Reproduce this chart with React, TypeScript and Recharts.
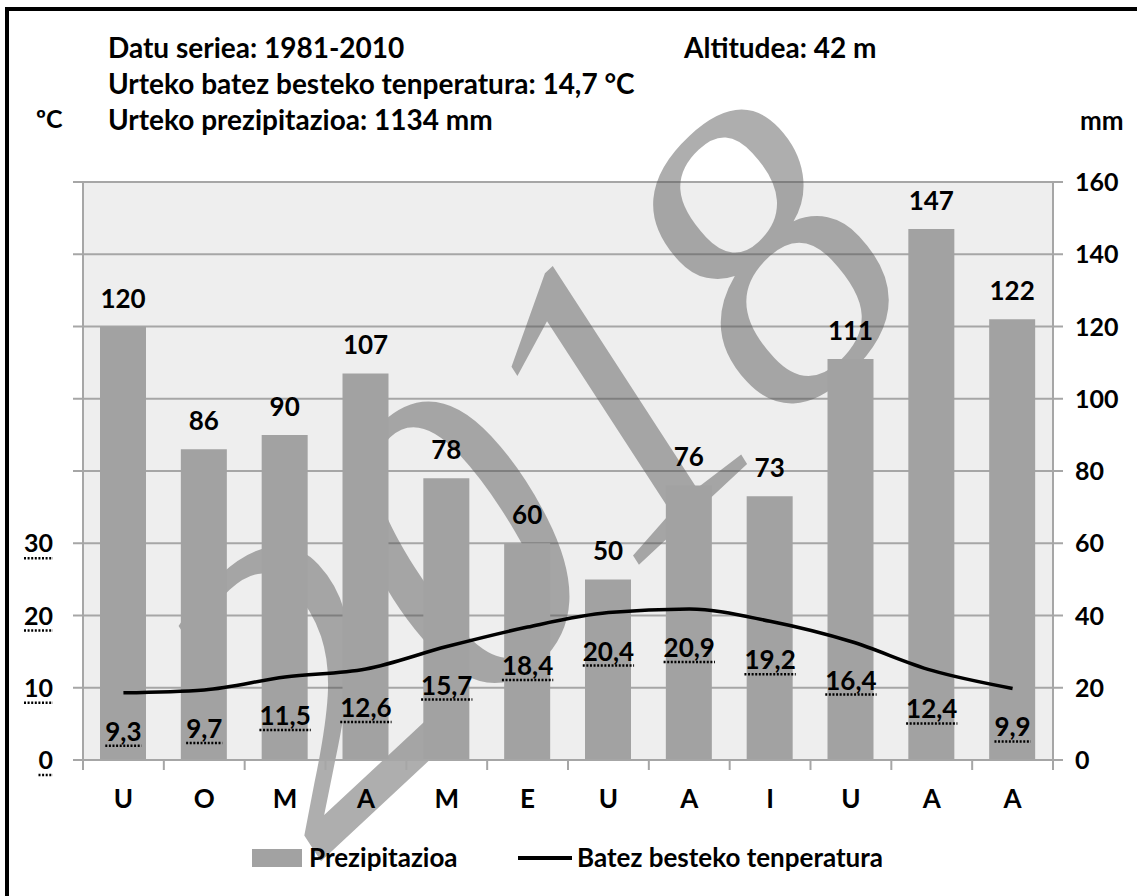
import React from 'react';
import { ComposedChart, Bar, Line, XAxis, YAxis, CartesianGrid, LabelList, Customized } from 'recharts';

const months = ['U', 'O', 'M', 'A', 'M', 'E', 'U', 'A', 'I', 'U', 'A', 'A'];
const precipitation = [120, 86, 90, 107, 78, 60, 50, 76, 73, 111, 147, 122];
const temperature = [9.3, 9.7, 11.5, 12.6, 15.7, 18.4, 20.4, 20.9, 19.2, 16.4, 12.4, 9.9];
const mmTicks = [0, 20, 40, 60, 80, 100, 120, 140, 160];
const tempTicks = [0, 10, 20, 30, 40, 50, 60, 70, 80];
const tempLabeledTicks = [0, 10, 20, 30];
const headerLeft = ['Datu seriea: 1981-2010', 'Urteko batez besteko tenperatura: 14,7 °C', 'Urteko prezipitazioa: 1134 mm'];
const headerRight = 'Altitudea: 42 m';
const seriesNames = ['Prezipitazioa', 'Batez besteko tenperatura'];
const leftUnit = 'ºC';
const rightUnit = 'mm';
const watermark = '2018';

const data = months.map((m, i) => ({ idx: i, month: m, precip: precipitation[i], temp: temperature[i] }));

const W = 1137;
const H = 896;
const PLOT_L = 83;
const PLOT_R = 1053;
const PLOT_T = 182;
const PLOT_B = 760;
const BAND = (PLOT_R - PLOT_L) / months.length;
const FONT = "Lato, 'Open Sans', sans-serif";
const BAR_FILL = '#A2A2A2';
const GRID = '#A6A6A6';

let ctx: CanvasRenderingContext2D | null = null;
function measure(text: string, size: number): number {
  if (!ctx) ctx = document.createElement('canvas').getContext('2d');
  if (!ctx) return text.length * size * 0.55;
  ctx.font = `bold ${size}px Lato`;
  return ctx.measureText(text).width;
}
const fmt = (v: number) => v.toFixed(1).replace('.', ',');

const LeftTick = (props: any) => {
  const { x, y, payload } = props;
  const v = payload.value;
  if (!tempLabeledTicks.includes(v)) return <g />;
  const s = String(v);
  const w = measure(s, 25);
  const right = x - 20;
  return (
    <g>
      <text x={right} y={y + 9} textAnchor="end" fontSize={25} fontWeight="bold" fontFamily={FONT} fill="#000">{s}</text>
      <line x1={right - w} x2={right} y1={y + 15} y2={y + 15} stroke="#000" strokeWidth={2.5} strokeDasharray="2 1.6" />
    </g>
  );
};

const RightTick = (props: any) => {
  const { x, y, payload } = props;
  return (
    <text x={x + 12} y={y + 9} textAnchor="start" fontSize={25} fontWeight="bold" fontFamily={FONT} fill="#000">{payload.value}</text>
  );
};

const XTick = (props: any) => {
  const { x, payload, index } = props;
  const label = months[payload.value] ?? '';
  return (
    <g>
      <line x1={x - BAND / 2} x2={x - BAND / 2} y1={PLOT_B} y2={PLOT_B + 10} stroke={GRID} strokeWidth={2} />
      {index === months.length - 1 && (
        <line x1={x + BAND / 2} x2={x + BAND / 2} y1={PLOT_B} y2={PLOT_B + 10} stroke={GRID} strokeWidth={2} />
      )}
      <text x={x} y={PLOT_B + 48} textAnchor="middle" fontSize={26} fontWeight="bold" fontFamily={FONT} fill="#000">{label}</text>
    </g>
  );
};

const BarLabel = (props: any) => {
  const { x, y, width, value } = props;
  return (
    <text x={x + width / 2} y={y - 19} textAnchor="middle" fontSize={26} fontWeight="bold" fontFamily={FONT} fill="#000">{value}</text>
  );
};

const TempLabel = (props: any) => {
  const { x, y, value } = props;
  const s = fmt(value);
  const w = measure(s, 26);
  return (
    <g>
      <text x={x} y={y + 48} textAnchor="middle" fontSize={26} fontWeight="bold" fontFamily={FONT} fill="#000">{s}</text>
      <line x1={x - w / 2} x2={x + w / 2} y1={y + 53} y2={y + 53} stroke="#000" strokeWidth={2.5} strokeDasharray="2 1.6" />
    </g>
  );
};

const Header = () => (
  <g fontFamily={FONT} fontWeight="bold" fill="#000">
    {headerLeft.map((t, i) => (
      <text key={i} x={108} y={58 + i * 36} fontSize={28}>{t}</text>
    ))}
    <text x={684} y={58} fontSize={28}>{headerRight}</text>
    <text x={36} y={128} fontSize={25}>{leftUnit}</text>
    <text x={1080} y={130} fontSize={26}>{rightUnit}</text>
  </g>
);

const LegendBlock = () => (
  <g fontFamily={FONT} fontWeight="bold" fill="#000">
    <rect x={252} y={849} width={50} height={18} fill={BAR_FILL} />
    <text x={309} y={867} fontSize={26}>{seriesNames[0]}</text>
    <line x1={518} x2={572} y1={858} y2={858} stroke="#000" strokeWidth={4} />
    <text x={577} y={867} fontSize={26}>{seriesNames[1]}</text>
  </g>
);

const Watermark = () => (
  <text
    transform="translate(628,575) rotate(-43)"
    textAnchor="middle"
    fontSize={420}
    fontStyle="italic"
    fontFamily="'Liberation Serif', serif"
    fill="#555555"
    fillOpacity={0.48}
  >
    {watermark}
  </text>
);

export default function App() {
  return (
    <div style={{ position: 'absolute', left: 0, top: 0, width: W, height: H, background: '#fff' }}>
      <ComposedChart width={W} height={H} data={data} margin={{ top: PLOT_T, right: 0, bottom: H - PLOT_B - 60, left: 0 }} barCategoryGap="21%">
        <CartesianGrid yAxisId="right" vertical={false} horizontal stroke={GRID} strokeWidth={2} fill="#EEEEEE" />
        <XAxis dataKey="idx" type="category" height={60} tick={<XTick />} tickLine={false} tickSize={0} axisLine={{ stroke: GRID, strokeWidth: 2 }} interval={0} />
        <YAxis yAxisId="left" orientation="left" width={PLOT_L} domain={[0, 80]} ticks={tempTicks} interval={0} tick={<LeftTick />} tickSize={10} tickMargin={0} tickLine={{ stroke: GRID, strokeWidth: 2 }} axisLine={{ stroke: GRID, strokeWidth: 2 }} />
        <YAxis yAxisId="right" orientation="right" width={W - PLOT_R} domain={[0, 160]} ticks={mmTicks} interval={0} tick={<RightTick />} tickSize={10} tickMargin={0} tickLine={{ stroke: GRID, strokeWidth: 2 }} axisLine={{ stroke: GRID, strokeWidth: 2 }} />
        <Bar yAxisId="right" dataKey="precip" fill={BAR_FILL} barSize={46} isAnimationActive={false}>
          <LabelList dataKey="precip" content={<BarLabel />} />
        </Bar>
        <Customized component={<Watermark />} />
        <Line yAxisId="left" dataKey="temp" type="monotone" stroke="#000" strokeWidth={3.5} dot={false} activeDot={false} isAnimationActive={false}>
          <LabelList dataKey="temp" content={<TempLabel />} />
        </Line>
        <Customized component={<Header />} />
        <Customized component={<LegendBlock />} />
      </ComposedChart>
      <div style={{ position: 'absolute', left: 5, top: 7, width: W - 5, height: 4, background: '#000' }} />
      <div style={{ position: 'absolute', left: 5, top: 7, width: 4, height: H - 7, background: '#000' }} />
    </div>
  );
}
